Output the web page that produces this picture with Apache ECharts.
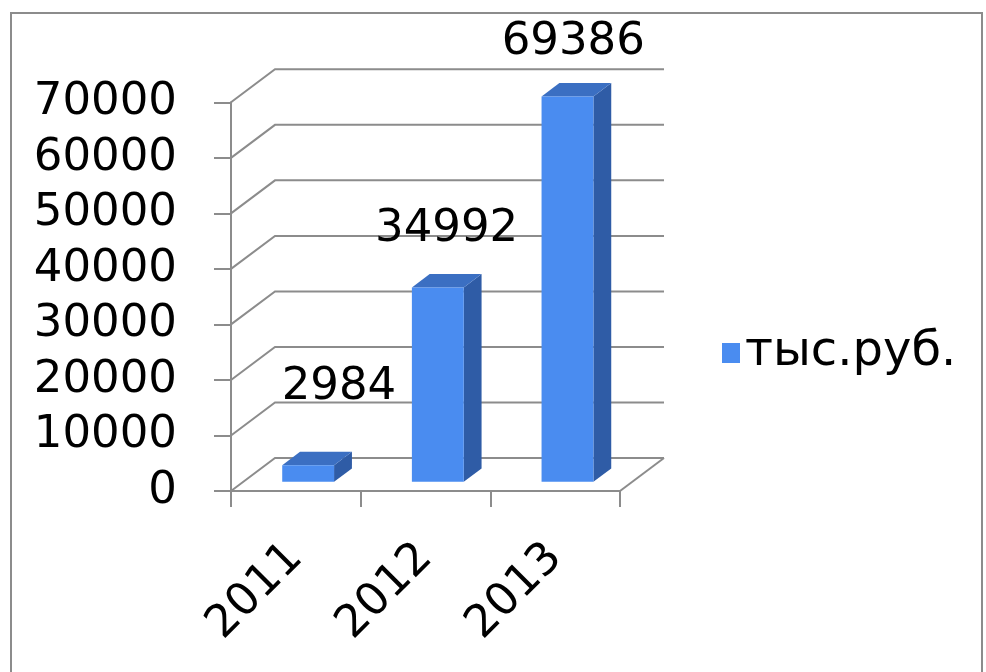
<!DOCTYPE html>
<html>
<head>
<meta charset="utf-8">
<script src="https://cdn.jsdelivr.net/npm/echarts@6/dist/echarts.min.js"></script>
<style>
html,body{margin:0;padding:0;background:#fff;}
#frame{position:absolute;left:10px;top:12px;width:973px;height:670px;border:2px solid #8c8c8c;box-sizing:border-box;}
#chart{position:absolute;left:0;top:0;width:986px;height:672px;}
</style>
</head>
<body>
<div id="frame"></div>
<div id="chart"></div>
<script>
// ---- data ----
const categories = ['2011', '2012', '2013'];
const values = [2984, 34992, 69386];
const seriesName = 'тыс.руб.';
const yMin = 0, yMax = 70000, yStep = 10000;
const wallTicks = [0, 10000, 20000, 30000, 40000, 50000, 60000, 70000];

// ---- styles ----
const FONT = 'DejaVu Sans';
const GRID_COLOR = '#8c8c8c';
const DEPTH = [44, -33];          // 3D depth vector of the plot box
const BAR_D0 = 0.28, BAR_D1 = 0.685; // bar depth span (fraction)
const FRONT = '#4a8cf0', TOP = '#3b6fc2', SIDE = '#2f5ca6';
const labelOffsets = [[13, -65], [-9, -45], [-12, -41]];

const chart = echarts.init(document.getElementById('chart'), null, {renderer: 'canvas'});

function wallItem(params, api) {
  const cs = params.coordSys;
  const v = api.value(1);
  const y = api.coord([0, v])[1];
  const x0 = cs.x, x1 = cs.x + cs.width;
  const children = [{
    type: 'polyline',
    shape: {points: [[x0, y], [x0 + DEPTH[0], y + DEPTH[1]], [x1 + DEPTH[0], y + DEPTH[1]]]},
    style: {stroke: GRID_COLOR, lineWidth: 2, fill: null}
  }];
  if (v === yMin) {
    children.push({
      type: 'line',
      shape: {x1: x1, y1: y, x2: x1 + DEPTH[0], y2: y + DEPTH[1]},
      style: {stroke: GRID_COLOR, lineWidth: 2}
    });
  }
  return {type: 'group', children: children};
}

function barItem(params, api) {
  const idx = api.value(0);
  const v = api.value(1);
  const top = api.coord([idx, v]);
  const base = api.coord([idx, yMin]);
  const w = api.size([1, 0])[0] * 0.4;
  const fx = DEPTH[0] * BAR_D0, fy = DEPTH[1] * BAR_D0;
  const bx = DEPTH[0] * BAR_D1, by = DEPTH[1] * BAR_D1;
  const l = top[0] - w / 2, r = top[0] + w / 2;
  const yt = top[1], yb = base[1];
  const off = labelOffsets[params.dataIndex];
  return {
    type: 'group',
    children: [
      {type: 'polygon', shape: {points: [[r + fx, yt + fy], [r + bx, yt + by], [r + bx, yb + by], [r + fx, yb + fy]]},
       style: {fill: SIDE}},
      {type: 'polygon', shape: {points: [[l + fx, yt + fy], [r + fx, yt + fy], [r + bx, yt + by], [l + bx, yt + by]]},
       style: {fill: TOP}},
      {type: 'rect', shape: {x: l + fx, y: yt + fy, width: w, height: yb - yt},
       style: {fill: FRONT}},
      {type: 'text', style: {
        text: String(v), x: top[0] + bx + off[0], y: yt + by + off[1],
        fill: '#000', fontSize: 45, fontFamily: FONT, align: 'center', verticalAlign: 'middle'}}
    ]
  };
}

chart.setOption({
  animation: false,
  backgroundColor: 'transparent',
  grid: {left: 231, top: 102.3, width: 389, height: 388.7, containLabel: false},
  xAxis: {
    type: 'category', data: categories, boundaryGap: true,
    axisLine: {show: true, lineStyle: {color: GRID_COLOR, width: 2}},
    axisTick: {show: true, alignWithLabel: false, length: 16, lineStyle: {color: GRID_COLOR, width: 2}},
    axisLabel: {rotate: 45, margin: 60, color: '#000', fontSize: 45, fontFamily: FONT},
    splitLine: {show: false}
  },
  yAxis: {
    type: 'value', min: yMin, max: yMax, interval: yStep,
    axisLine: {show: true, lineStyle: {color: GRID_COLOR, width: 2}},
    axisTick: {show: true, length: 17, lineStyle: {color: GRID_COLOR, width: 2}},
    axisLabel: {margin: 54, color: '#000', fontSize: 45, fontFamily: FONT, formatter: v => String(v)},
    splitLine: {show: false}
  },
  legend: {
    left: 717, top: 324, icon: 'rect', itemWidth: 18, itemHeight: 20, itemGap: 0,
    textStyle: {fontSize: 48, fontFamily: FONT, color: '#000', padding: [0, 0, 0, 0]},
    data: [seriesName]
  },
  series: [
    {
      type: 'custom', name: 'wall', z: 1, silent: true,
      renderItem: wallItem,
      data: wallTicks.map(t => [0, t])
    },
    {
      type: 'custom', name: seriesName, z: 3,
      itemStyle: {color: FRONT},
      renderItem: barItem,
      data: values.map((v, i) => [i, v])
    }
  ]
});
</script>
</body>
</html>
